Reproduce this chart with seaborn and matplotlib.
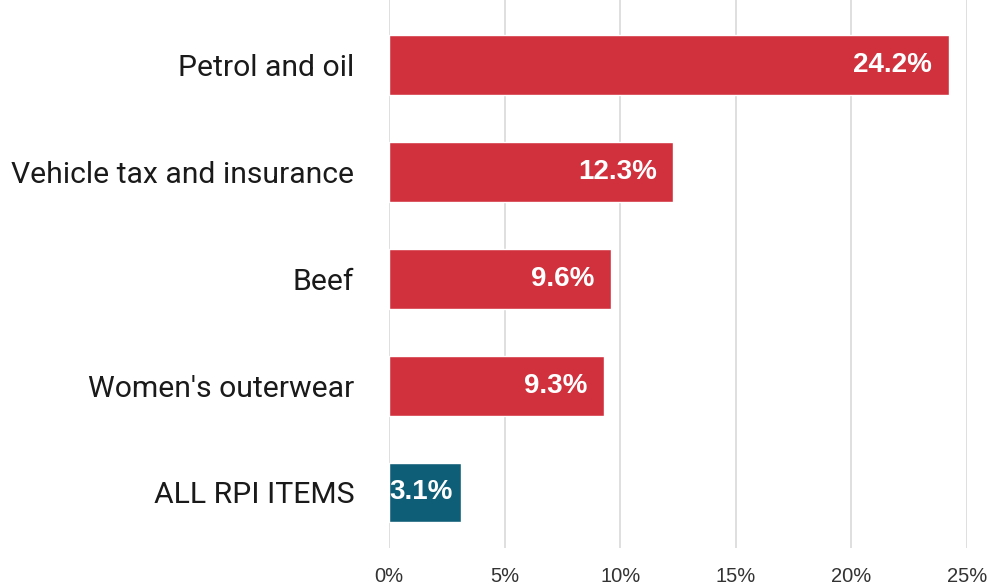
import matplotlib
matplotlib.use("Agg")
import matplotlib.pyplot as plt
import seaborn as sns
import pandas as pd

categories = ["Petrol and oil", "Vehicle tax and insurance", "Beef",
              "Women's outerwear", "ALL RPI ITEMS"]
values = [24.2, 12.3, 9.6, 9.3, 3.1]
bar_colors = ["#D1313D", "#D1313D", "#D1313D", "#D1313D", "#0F5E78"]
tick_values = [0, 5, 10, 15, 20, 25]
tick_labels = ["0%", "5%", "10%", "15%", "20%", "25%"]

df = pd.DataFrame({"item": categories, "change": values})

sns.set_theme(style="white")
plt.rcParams["font.family"] = ["Roboto", "DejaVu Sans"]

fig = plt.figure(figsize=(9.89, 5.85), dpi=100)
ax = fig.add_axes([389 / 989, 37 / 585, (967 - 389) / 989, 548 / 585])

sns.barplot(data=df, x="change", y="item", hue="item", palette=bar_colors,
            legend=False, width=0.56, ax=ax, saturation=1)

ax.set_xlim(0, 25)
ax.set_ylim(4.52, -0.61)
ax.set_xticks(tick_values)
ax.set_xticklabels(tick_labels, fontsize=14.5, color="#333333", family="Liberation Sans")
ax.grid(axis="x", color="#D9D9D9", linewidth=1.2)
ax.set_axisbelow(True)
for s in ax.spines.values():
    s.set_visible(False)
ax.tick_params(axis="x", length=0, pad=14)
ax.tick_params(axis="y", length=0, pad=25)
for lbl in ax.get_yticklabels():
    lbl.set_fontsize(21.7)
    lbl.set_color("#1A1A1A")
ax.set_xlabel("")
ax.set_ylabel("")

# value labels sit inside the bar end; short bars get them flush left
for i, v in enumerate(values):
    if v < 5:
        ax.text(0.02, i, f"{v}%", ha="left", va="center", color="white",
                fontsize=20, fontweight="bold", family="Liberation Sans")
    else:
        ax.text(v - 0.7, i, f"{v}%", ha="right", va="center", color="white",
                fontsize=20, fontweight="bold", family="Liberation Sans")

fig.savefig("out.png", dpi=100)
